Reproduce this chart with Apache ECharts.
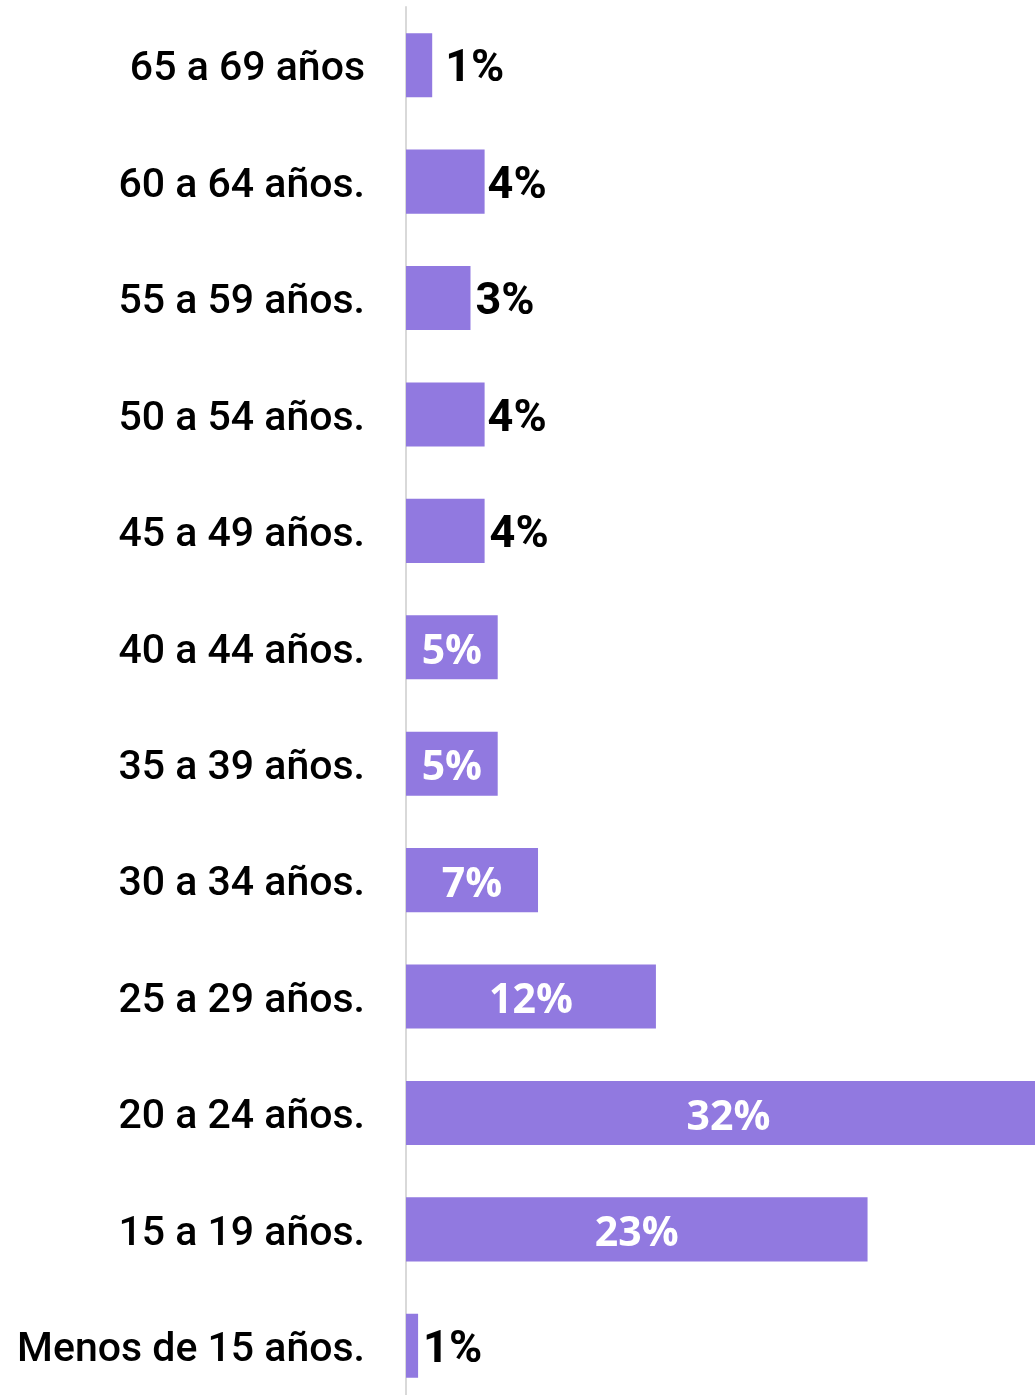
<!DOCTYPE html>
<html>
<head>
<meta charset="utf-8">
<script src="https://cdn.jsdelivr.net/npm/echarts@6/dist/echarts.min.js"></script>
<style>
    html, body { margin: 0; padding: 0; background: #fff; overflow: hidden; }
    #chart { width: 1060px; height: 1410px; }
</style>
</head>
<body>
<div id="chart"></div>
<script>
// top to bottom, as drawn
const ageGroups = [
    '65 a 69 años', '60 a 64 años.', '55 a 59 años.', '50 a 54 años.',
    '45 a 49 años.', '40 a 44 años.', '35 a 39 años.', '30 a 34 años.',
    '25 a 29 años.', '20 a 24 años.', '15 a 19 años.', 'Menos de 15 años.'
];
const shares = [1.3, 3.9, 3.2, 3.9, 3.9, 4.55, 4.55, 6.55, 12.4, 32, 22.9, 0.6];
const shareLabels = ['1%', '4%', '3%', '4%', '4%', '5%', '5%', '7%', '12%', '32%', '23%', '1%'];

const outsideLimit = 4.2;
const barData = shares.map((v, i) => {
    const outside = v < outsideLimit;
    return {
        value: v,
        label: outside ? {
            position: 'right',
            distance: i === 0 ? 13 : (i === 1 || i === 3 ? 3 : 5),
            offset: [0, 5],
            color: '#000',
            fontFamily: 'Roboto',
            fontWeight: 'bold',
            fontSize: 45
        } : {
            position: 'inside',
            offset: [0, 5],
            color: '#fff',
            fontFamily: 'Open Sans',
            fontWeight: 'bold',
            fontSize: 41
        }
    };
});

const chart = echarts.init(document.getElementById('chart'));
chart.setOption({
    animation: false,
    grid: { left: 406, width: 649, top: 7, height: 1397 },
    xAxis: {
        type: 'value',
        min: 0,
        max: 32.2,
        show: false
    },
    yAxis: {
        type: 'category',
        inverse: true,
        data: ageGroups,
        axisLine: { lineStyle: { color: '#d9d9d9', width: 2 } },
        axisTick: { show: false },
        axisLabel: {
            margin: 41,
            formatter: v => '{t|' + v + '}',
            rich: {
                t: {
                    color: '#000',
                    fontFamily: 'Roboto',
                    fontWeight: 500,
                    fontSize: 41,
                    padding: [10, 0, 0, 0]
                }
            }
        }
    },
    series: [{
        type: 'bar',
        data: barData,
        barCategoryGap: '45%',
        itemStyle: { color: '#9179E0' },
        label: {
            show: true,
            formatter: p => shareLabels[p.dataIndex]
        }
    }]
});
</script>
</body>
</html>
